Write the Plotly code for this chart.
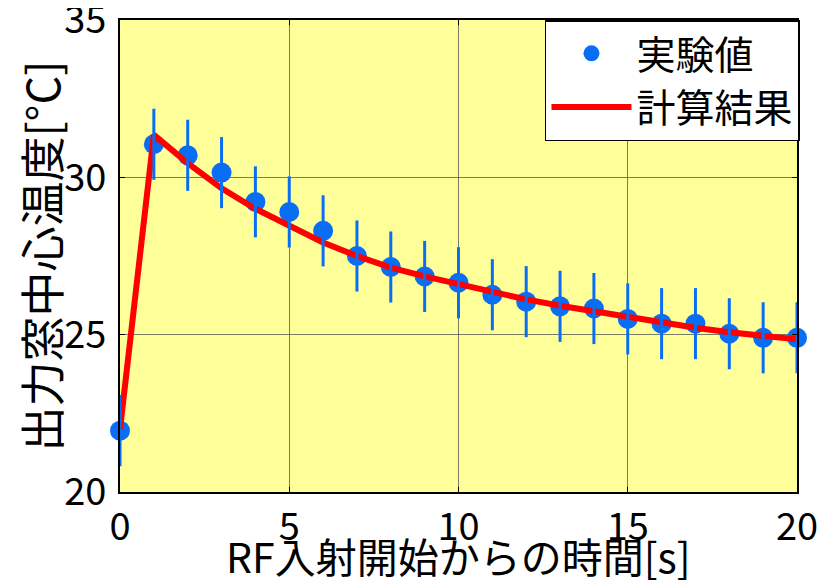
import plotly.graph_objects as go

# Experimental data
t_exp = [0, 1, 2, 3, 4, 5, 6, 7, 8, 9, 10, 11, 12, 13, 14, 15, 16, 17, 18, 19, 20]
temp_exp = [21.95, 31.05, 30.7, 30.15, 29.22, 28.9, 28.3, 27.5, 27.15, 26.85, 26.65,
            26.27, 26.05, 25.9, 25.83, 25.5, 25.35, 25.35, 25.03, 24.9, 24.9]
err_exp = [1.13] * 21

# Calculated result
t_calc = [0, 1, 2, 3, 4, 5, 6, 7, 8, 9, 10, 11, 12, 13, 14, 15, 16, 17, 18, 19, 20]
temp_calc = [22.0, 31.35, 30.45, 29.65, 29.0, 28.44, 27.93, 27.5, 27.13, 26.85, 26.6,
             26.35, 26.12, 25.92, 25.74, 25.55, 25.38, 25.22, 25.08, 24.96, 24.85]

x_ticks = [0, 5, 10, 15, 20]
y_ticks = [20, 25, 30, 35]

BLUE = "#0A6EF5"
FONT = "Liberation Sans Narrow, Noto Sans CJK JP, sans-serif"

fig = go.Figure()
fig.add_trace(go.Scatter(
    x=t_exp, y=temp_exp, mode="markers", name="実験値",
    marker=dict(color=BLUE, size=20, line=dict(width=0)),
    cliponaxis=False,
))
fig.add_trace(go.Scatter(
    x=t_calc, y=temp_calc, mode="lines", name="計算結果",
    line=dict(color="#FF0000", width=6),
))
fig.add_trace(go.Scatter(
    x=t_exp, y=temp_exp, mode="markers", showlegend=False,
    marker=dict(color=BLUE, size=1, opacity=0),
    error_y=dict(type="data", array=err_exp, color=BLUE, thickness=3, width=0),
    hoverinfo="skip",
))

axis_common = dict(
    showline=True, linecolor="black", linewidth=2, mirror="ticks",
    ticks="inside", ticklen=5, tickcolor="black",
    showgrid=True, gridcolor="rgba(80,80,80,0.75)", gridwidth=1,
    zeroline=False, automargin=False, ticklabeloverflow="allow",
    tickfont=dict(family=FONT, size=38, color="black"),
)

fig.update_layout(
    width=824, height=580,
    margin=dict(l=112, r=35, t=12, b=96),
    paper_bgcolor="white", plot_bgcolor="#FFFF99",
    font=dict(family=FONT, color="black"),
    xaxis=dict(range=[0, 20], tickvals=x_ticks, **axis_common),
    yaxis=dict(range=[20, 35], tickvals=y_ticks, ticklabelstandoff=4, **axis_common,
               title=dict(text="出力窓中心温度[°C]", font=dict(family=FONT, size=45), standoff=2)),
    legend=dict(
        x=1.0044, y=1.0, xanchor="right", yanchor="top",
        bgcolor="white", bordercolor="black", borderwidth=1.5,
        font=dict(family=FONT, size=39, color="black"),
        tracegroupgap=0, itemwidth=80,
    ),
    showlegend=True,
    annotations=[dict(
        text="RF入射開始からの時間[s]", xref="paper", yref="paper",
        x=0.5, y=-0.066, xanchor="center", yanchor="top", showarrow=False,
        font=dict(family=FONT, size=41, color="black"),
    )],
)

fig.write_html("out.html")
